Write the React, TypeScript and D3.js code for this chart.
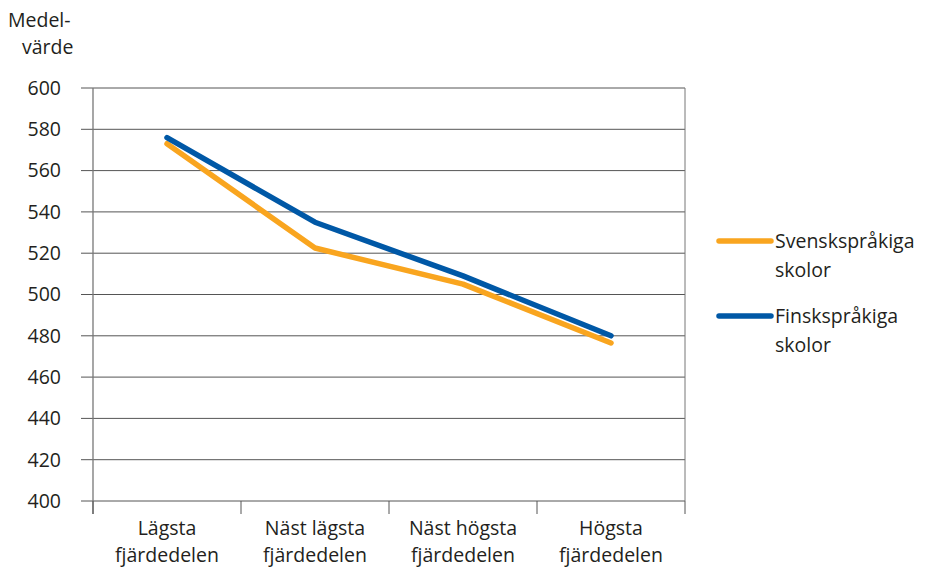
import React from "react";
import * as d3 from "d3";

const categories: string[][] = [
  ["Lägsta", "fjärdedelen"],
  ["Näst lägsta", "fjärdedelen"],
  ["Näst högsta", "fjärdedelen"],
  ["Högsta", "fjärdedelen"],
];
const svenskValues = [573, 522.5, 505, 476.5];
const finskValues = [576, 535, 509, 480];
const yTicks = [400, 420, 440, 460, 480, 500, 520, 540, 560, 580, 600];
const seriesNames = [["Svenskspråkiga", "skolor"], ["Finskspråkiga", "skolor"]];
const colors = ["#F9A51F", "#0058A6"];

const W = 930, H = 572;
const left = 93, right = 685, top = 88, bottom = 501;
const font = "'Open Sans', 'Noto Sans', sans-serif";
const fs = 19.5;

export default function App() {
  const x = d3.scaleBand<number>().domain(d3.range(categories.length)).range([left, right]);
  const y = d3.scaleLinear().domain([400, 600]).range([bottom, top]);
  const line = d3.line<number>()
    .x((_, i) => (x(i) as number) + x.bandwidth() / 2)
    .y((d) => y(d));
  const series = [svenskValues, finskValues];
  const bandTicks = d3.range(categories.length + 1).map((i) => left + i * x.bandwidth());

  return (
    <svg width={W} height={H} style={{ position: "absolute", left: 0, top: 0, background: "#fff" }}>
      <text x={8} y={27} fontFamily={font} fontSize={fs} fill="#231f20">Medel-</text>
      <text x={22} y={54} fontFamily={font} fontSize={fs} fill="#231f20">värde</text>
      {yTicks.map((t) => (
        <g key={t}>
          <line x1={81} x2={right} y1={y(t)} y2={y(t)} stroke="#555" strokeWidth={1} />
          <text x={61} y={y(t)} dy="0.35em" textAnchor="end" fontFamily={font} fontSize={fs} fill="#231f20">{t}</text>
        </g>
      ))}
      <line x1={left} x2={left} y1={top} y2={bottom + 13} stroke="#777" strokeWidth={1.3} />
      <line x1={right} x2={right} y1={top} y2={bottom} stroke="#777" strokeWidth={1} />
      {bandTicks.map((bx, i) => (
        <line key={i} x1={bx} x2={bx} y1={bottom} y2={bottom + 13} stroke="#555" strokeWidth={1} />
      ))}
      {categories.map((c, i) => (
        <text key={i} textAnchor="middle" fontFamily={font} fontSize={fs} fill="#231f20">
          <tspan x={(x(i) as number) + x.bandwidth() / 2} y={535}>{c[0]}</tspan>
          <tspan x={(x(i) as number) + x.bandwidth() / 2} y={562}>{c[1]}</tspan>
        </text>
      ))}
      {series.map((s, k) => (
        <path key={k} d={line(s) || ""} fill="none" stroke={colors[k]} strokeWidth={5.5} strokeLinejoin="round" strokeLinecap="round" />
      ))}
      {seriesNames.map((n, k) => {
        const ly = 241 + k * 75;
        return (
          <g key={k}>
            <line x1={719} x2={771} y1={ly} y2={ly} stroke={colors[k]} strokeWidth={5.5} strokeLinecap="round" />
            <text fontFamily={font} fontSize={fs} fill="#231f20">
              <tspan x={775} y={ly + 7}>{n[0]}</tspan>
              <tspan x={775} y={ly + 36}>{n[1]}</tspan>
            </text>
          </g>
        );
      })}
    </svg>
  );
}
